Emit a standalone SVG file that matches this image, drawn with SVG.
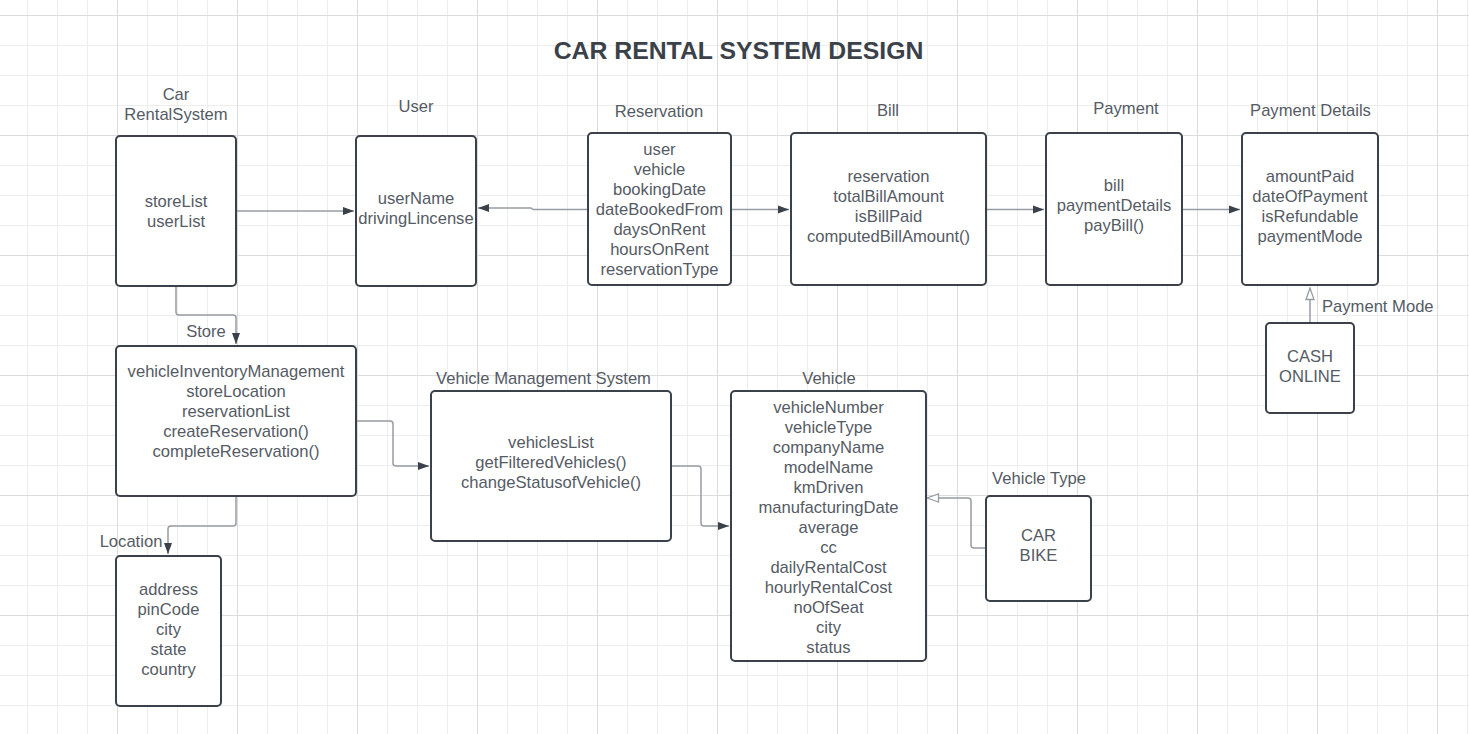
<svg xmlns="http://www.w3.org/2000/svg" width="1469" height="734" viewBox="0 0 1469 734">
<style>
.box{fill:#ffffff;stroke:#3a414a;stroke-width:2}
.t{font-family:"Liberation Sans",Arial,sans-serif;font-size:16.6px;fill:#555b64;text-anchor:middle}
.ts{font-family:"Liberation Sans",Arial,sans-serif;font-size:16.6px;fill:#555b64}
.title{font-family:"Liberation Sans",Arial,sans-serif;font-size:24.8px;font-weight:bold;fill:#3b4149;text-anchor:middle}
.c{fill:none;stroke:#979ca2;stroke-width:1.5}
</style>
<defs>
<pattern id="minor" x="27" y="15" width="30" height="30" patternUnits="userSpaceOnUse">
<path d="M0.5 0V30M0 0.5H30" stroke="#ededed" stroke-width="1" fill="none"/>
</pattern>
<pattern id="major" x="117" y="15" width="120" height="120" patternUnits="userSpaceOnUse">
<path d="M0.5 0V120M0 0.5H120" stroke="#dcdcdc" stroke-width="1" fill="none"/>
</pattern>
<marker id="arr" markerWidth="12" markerHeight="9" refX="11" refY="4.5" orient="auto" markerUnits="userSpaceOnUse">
<path d="M0 0.5L11 4.5L0 8.5Z" fill="#3a414a"/>
</marker>
<marker id="hollow" markerWidth="14" markerHeight="10" refX="12.5" refY="5" orient="auto" markerUnits="userSpaceOnUse">
<path d="M1 1L12.5 5L1 9Z" fill="#ffffff" stroke="#979ca2" stroke-width="1.3"/>
</marker>
</defs>
<rect width="1469" height="734" fill="#ffffff"/>
<rect width="1469" height="734" fill="url(#minor)"/>
<rect width="1469" height="734" fill="url(#major)"/>

<text class="title" x="738.5" y="59">CAR RENTAL SYSTEM DESIGN</text>

<g id="connectors">
<path class="c" d="M236 211H354" marker-end="url(#arr)"/>
<path class="c" d="M588 209.5H533L531 208H478" marker-end="url(#arr)"/>
<path class="c" d="M731 209.5H789" marker-end="url(#arr)"/>
<path class="c" d="M986 209.5H1044" marker-end="url(#arr)"/>
<path class="c" d="M1182 209.5H1240" marker-end="url(#arr)"/>
<path class="c" d="M1310 323V288" marker-end="url(#hollow)"/>
<path class="c" d="M176 286V312Q176 315 179 315H233Q236 315 236 318V344" marker-end="url(#arr)"/>
<path class="c" d="M356 421H390Q393 421 393 424V463Q393 466 396 466H429" marker-end="url(#arr)"/>
<path class="c" d="M236 496V523Q236 526 233 526H171Q168 526 168 529V554" marker-end="url(#arr)"/>
<path class="c" d="M671 466H698Q701 466 701 469V523Q701 526 704 526H729" marker-end="url(#arr)"/>
<path class="c" d="M986 548H974Q971 548 971 545V501Q971 498 968 498H927" marker-end="url(#hollow)"/>
</g>

<g id="car-rental-system">
<text class="t" x="176" y="100">Car</text>
<text class="t" x="176" y="120">RentalSystem</text>
<rect class="box" x="116" y="136" width="120" height="150" rx="4"/>
<text class="t" x="176" y="207">storeList</text>
<text class="t" x="176" y="227">userList</text>
</g>

<g id="user">
<text class="t" x="416" y="112">User</text>
<rect class="box" x="356" y="136" width="120" height="150" rx="4"/>
<text class="t" x="416" y="204">userName</text>
<text class="t" x="416" y="224">drivingLincense</text>
</g>

<g id="reservation">
<text class="t" x="659" y="116.5">Reservation</text>
<rect class="box" x="588" y="133" width="143" height="152" rx="4"/>
<text class="t" x="659.5" y="155">user</text>
<text class="t" x="659.5" y="175">vehicle</text>
<text class="t" x="659.5" y="195">bookingDate</text>
<text class="t" x="659.5" y="215">dateBookedFrom</text>
<text class="t" x="659.5" y="235">daysOnRent</text>
<text class="t" x="659.5" y="255">hoursOnRent</text>
<text class="t" x="659.5" y="275">reservationType</text>
</g>

<g id="bill">
<text class="t" x="888" y="116">Bill</text>
<rect class="box" x="791" y="133" width="195" height="152" rx="4"/>
<text class="t" x="888.5" y="181.5">reservation</text>
<text class="t" x="888.5" y="201.5">totalBillAmount</text>
<text class="t" x="888.5" y="221.5">isBillPaid</text>
<text class="t" x="888.5" y="241.5">computedBillAmount()</text>
</g>

<g id="payment">
<text class="t" x="1126" y="114">Payment</text>
<rect class="box" x="1046" y="133" width="136" height="152" rx="4"/>
<text class="t" x="1114" y="190.5">bill</text>
<text class="t" x="1114" y="210.5">paymentDetails</text>
<text class="t" x="1114" y="230.5">payBill()</text>
</g>

<g id="payment-details">
<text class="t" x="1310.5" y="116">Payment Details</text>
<rect class="box" x="1242" y="133" width="136" height="152" rx="4"/>
<text class="t" x="1310" y="181.5">amountPaid</text>
<text class="t" x="1310" y="201.5">dateOfPayment</text>
<text class="t" x="1310" y="221.5">isRefundable</text>
<text class="t" x="1310" y="241.5">paymentMode</text>
</g>

<g id="payment-mode">
<text class="ts" x="1322" y="312">Payment Mode</text>
<rect class="box" x="1266" y="323" width="88" height="90" rx="4"/>
<text class="t" x="1310" y="361.5">CASH</text>
<text class="t" x="1310" y="381.5">ONLINE</text>
</g>

<g id="store">
<text class="t" x="206" y="336.5">Store</text>
<rect class="box" x="116" y="346" width="240" height="150" rx="4"/>
<text class="t" x="236" y="376.5">vehicleInventoryManagement</text>
<text class="t" x="236" y="396.5">storeLocation</text>
<text class="t" x="236" y="416.5">reservationList</text>
<text class="t" x="236" y="436.5">createReservation()</text>
<text class="t" x="236" y="456.5">completeReservation()</text>
</g>

<g id="location">
<text class="t" x="131" y="547">Location</text>
<rect class="box" x="116" y="556" width="105" height="150" rx="4"/>
<text class="t" x="168.5" y="595">address</text>
<text class="t" x="168.5" y="615">pinCode</text>
<text class="t" x="168.5" y="635">city</text>
<text class="t" x="168.5" y="655">state</text>
<text class="t" x="168.5" y="675">country</text>
</g>

<g id="vehicle-management-system">
<text class="t" x="543.5" y="384">Vehicle Management System</text>
<rect class="box" x="431" y="391" width="240" height="150" rx="4"/>
<text class="t" x="551" y="448">vehiclesList</text>
<text class="t" x="551" y="468">getFilteredVehicles()</text>
<text class="t" x="551" y="488">changeStatusofVehicle()</text>
</g>

<g id="vehicle">
<text class="t" x="829" y="383.5">Vehicle</text>
<rect class="box" x="731" y="391" width="195" height="270" rx="4"/>
<text class="t" x="828.5" y="412.5">vehicleNumber</text>
<text class="t" x="828.5" y="432.5">vehicleType</text>
<text class="t" x="828.5" y="452.5">companyName</text>
<text class="t" x="828.5" y="472.5">modelName</text>
<text class="t" x="828.5" y="492.5">kmDriven</text>
<text class="t" x="828.5" y="512.5">manufacturingDate</text>
<text class="t" x="828.5" y="532.5">average</text>
<text class="t" x="828.5" y="552.5">cc</text>
<text class="t" x="828.5" y="572.5">dailyRentalCost</text>
<text class="t" x="828.5" y="592.5">hourlyRentalCost</text>
<text class="t" x="828.5" y="612.5">noOfSeat</text>
<text class="t" x="828.5" y="632.5">city</text>
<text class="t" x="828.5" y="652.5">status</text>
</g>

<g id="vehicle-type">
<text class="t" x="1039" y="484">Vehicle Type</text>
<rect class="box" x="986" y="496" width="105" height="105" rx="4"/>
<text class="t" x="1038.5" y="540.5">CAR</text>
<text class="t" x="1038.5" y="560.5">BIKE</text>
</g>
</svg>
